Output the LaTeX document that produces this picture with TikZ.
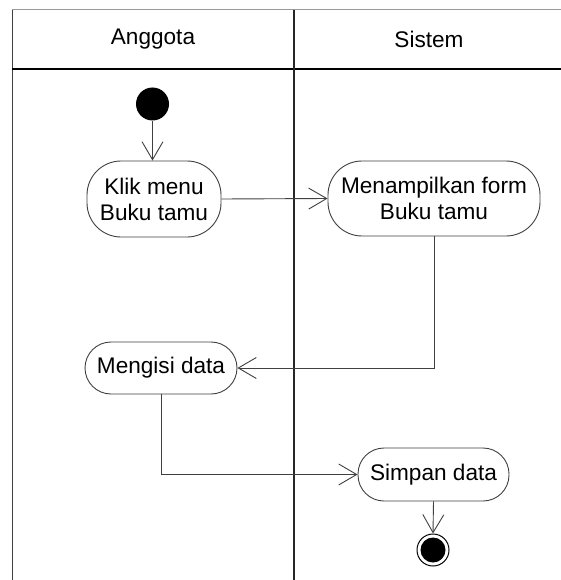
\documentclass[tikz,border=0pt]{standalone}
\usepackage{fontspec}
\setmainfont{Liberation Sans}
\usetikzlibrary{arrows.meta}
\definecolor{linegray}{HTML}{404040}
\tikzset{
  act/.style={draw=linegray, line width=0.9pt, rounded corners=34pt, align=center,
    font=\fontsize{22.6}{26}\selectfont, inner sep=0pt, fill=white},
  flow/.style={draw=linegray, line width=0.9pt, -{Straight Barb[length=18pt,width=21pt,line width=0.9pt]}},
  lanehead/.style={font=\fontsize{22.6}{26}\selectfont, inner sep=0pt},
}
\begin{document}
\begin{tikzpicture}[x=1pt,y=-1pt]
\useasboundingbox (0,0) rectangle (561,580);
\fill[white] (0,0) rectangle (561,580);
% swimlane frame
\draw[draw=gray!80, line width=1pt] (12,10) -- (561,10);
\draw[draw=linegray, line width=1pt] (12,10) -- (12,580);
\draw[draw=black, line width=2pt] (12,69) -- (561,69);
\draw[draw=black!85, line width=1.4pt] (294,10) -- (294,580);
\node[lanehead] (laneA) at (153,39) {Anggota};
\node[lanehead] (laneB) at (429,39) {Sistem};
% nodes
\node[circle, fill=black, minimum size=33pt, inner sep=0pt] (start) at (152.5,104) {};
\node[act, minimum width=134pt, minimum height=76pt] (klik) at (154,199) {Klik menu\\Buku tamu};
\node[act, minimum width=212pt, minimum height=75pt] (tampil) at (434,198.5) {Menampilkan form\\Buku tamu};
\node[act, minimum width=152pt, minimum height=52pt, rounded corners=26pt] (isi) at (161,368) {Mengisi data};
\node[act, minimum width=151pt, minimum height=53pt, rounded corners=26pt] (simpan) at (433.5,474.5) {Simpan data};
\node[circle, draw=black, line width=1pt, fill=white, minimum size=32pt, inner sep=0pt] (final) at (433,550) {};
\node[circle, fill=black, minimum size=25pt, inner sep=0pt] (finalin) at (final.center) {};
% connectors
\draw[flow] (start) -- (start |- klik.north);
\draw[flow] (klik.east) -- (tampil.west);
\draw[flow] (tampil.south) |- (isi.east);
\draw[flow] (isi.south) |- (simpan.west);
\draw[flow] (simpan.south) -- (final.north);
\end{tikzpicture}
\end{document}
